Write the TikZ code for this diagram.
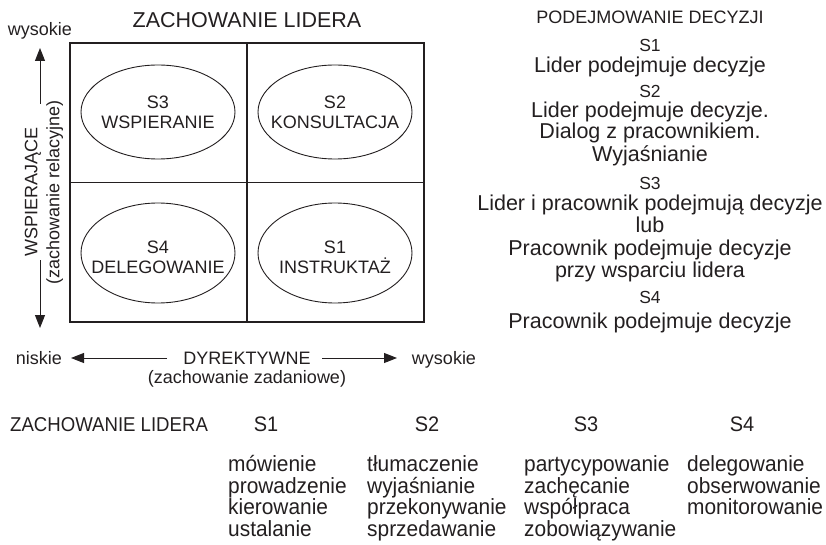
\documentclass[tikz,border=0pt]{standalone}
\usepackage{fontspec}
\setmainfont{Liberation Sans}
\newfontfamily\narrowsans{Liberation Sans}[FakeStretch=0.95]
\newfontfamily\narrowersans{Liberation Sans}[FakeStretch=0.93]
\usetikzlibrary{shapes.geometric,arrows.meta}
\definecolor{ink}{HTML}{231F20}
\begin{document}
\begin{tikzpicture}[x=1pt,y=-1pt,
  every node/.style={inner sep=0pt, text=ink},
  lbl/.style={font=\fontsize{18}{22}\selectfont},
  big/.style={font=\fontsize{21.5}{24}\selectfont},
  slabel/.style={font=\fontsize{17.5}{19}\selectfont},
  head/.style={font=\fontsize{18}{21}\selectfont},
  frame/.style={draw=ink, line width=1.2pt},
  oval/.style={draw=ink, line width=0.9pt, ellipse, minimum width=154pt},
  ovaltext/.style={align=center, font=\fontsize{18}{20}\selectfont},
  axis/.style={draw=ink, line width=1pt, -{Triangle[length=13pt,width=10pt]}},
  col/.style={anchor=base west, font=\narrowsans\fontsize{22}{22}\selectfont},
  colhead/.style={anchor=base, font=\narrowsans\fontsize{21}{22}\selectfont}
]
\useasboundingbox (0,0) rectangle (826,545);

% --- quadrant grid ---
\node[big, anchor=base] (title) at (247,27.5) {ZACHOWANIE LIDERA};
\node[lbl, anchor=base] (vhigh) at (40,36) {wysokie};
\node[frame, minimum width=354pt, minimum height=279pt] (box) at (247,182.5) {};
\draw[frame] (box.north) -- (box.south);
\draw[frame] (box.west) -- (box.east);

\node[oval, minimum height=94pt] (s3) at (158,112) {};
\node[oval, minimum height=94pt] (s2) at (335,112) {};
\node[oval, minimum height=100pt] (s4) at (158,253) {};
\node[oval, minimum height=100pt] (s1) at (335,253) {};
\node[ovaltext] at (s3) {S3\\WSPIERANIE};
\node[ovaltext] at (s2) {S2\\KONSULTACJA};
\node[ovaltext] at ([yshift=-4pt]s4.center) {S4\\DELEGOWANIE};
\node[ovaltext] at ([yshift=-4pt]s1.center) {S1\\INSTRUKTAŻ};

% --- vertical axis ---
\node[lbl, rotate=90, align=center] (vlab) at (44,192) {WSPIERAJĄCE\\(zachowanie relacyjne)};
\coordinate (vtop) at (40,48);
\coordinate (vgapa) at (40,104);
\coordinate (vgapb) at (40,260);
\coordinate (vbot) at (40,328);
\draw[axis] (vgapa) -- (vtop);
\draw[axis] (vgapb) -- (vbot);

% --- horizontal axis ---
\node[lbl, anchor=base] (hlow) at (39,364) {niskie};
\node[lbl, anchor=base] (hhigh) at (444,364) {wysokie};
\node[lbl, anchor=base] (dyr) at (247,364.5) {DYREKTYWNE};
\node[lbl, anchor=base] (dyr2) at (247,383) {(zachowanie zadaniowe)};
\coordinate (hl) at (71,358);
\coordinate (hla) at (167,358);
\coordinate (hra) at (322,358);
\coordinate (hr) at (397,358);
\draw[axis] (hla) -- (hl);
\draw[axis] (hra) -- (hr);

% --- decision making column ---
\node[head, anchor=base] (dhead) at (650,24) {PODEJMOWANIE DECYZJI};
\node[slabel, anchor=base] (d1) at (650,52) {S1};
\node[big, anchor=base] (d1a) at (650,73) {Lider podejmuje decyzje};
\node[slabel, anchor=base] (d2) at (650,98) {S2};
\node[big, anchor=base] (d2a) at (650,118) {Lider podejmuje decyzje.};
\node[big, anchor=base] (d2b) at (650,139) {Dialog z pracownikiem.};
\node[big, anchor=base] (d2c) at (650,162) {Wyjaśnianie};
\node[slabel, anchor=base] (d3) at (650,190) {S3};
\node[big, anchor=base] (d3a) at (650,211) {Lider i pracownik podejmują decyzje};
\node[big, anchor=base] (d3b) at (650,233) {lub};
\node[big, anchor=base] (d3c) at (650,255) {Pracownik podejmuje decyzje};
\node[big, anchor=base] (d3d) at (650,277) {przy wsparciu lidera};
\node[slabel, anchor=base] (d4) at (650,303) {S4};
\node[big, anchor=base] (d4a) at (650,328) {Pracownik podejmuje decyzje};

% --- behaviour table ---
\node[anchor=base west, font=\narrowersans\fontsize{20}{22}\selectfont] (bhead) at (10,431.5) {ZACHOWANIE LIDERA};
\node[colhead] (b1) at (266,431.5) {S1};
\node[colhead] (b2) at (427,431.5) {S2};
\node[colhead] (b3) at (586,431.5) {S3};
\node[colhead] (b4) at (742,431.5) {S4};
\foreach \t [count=\i] in {mówienie,prowadzenie,kierowanie,ustalanie}
  \node[col] (c1-\i) at (228,450+21.5*\i) {\t};
\foreach \t [count=\i] in {tłumaczenie,wyjaśnianie,przekonywanie,sprzedawanie}
  \node[col] (c2-\i) at (367,450+21.5*\i) {\t};
\foreach \t [count=\i] in {partycypowanie,zachęcanie,współpraca,zobowiązywanie}
  \node[col] (c3-\i) at (524,450+21.5*\i) {\t};
\foreach \t [count=\i] in {delegowanie,obserwowanie,monitorowanie}
  \node[col] (c4-\i) at (687,450+21.5*\i) {\t};
\end{tikzpicture}
\end{document}
